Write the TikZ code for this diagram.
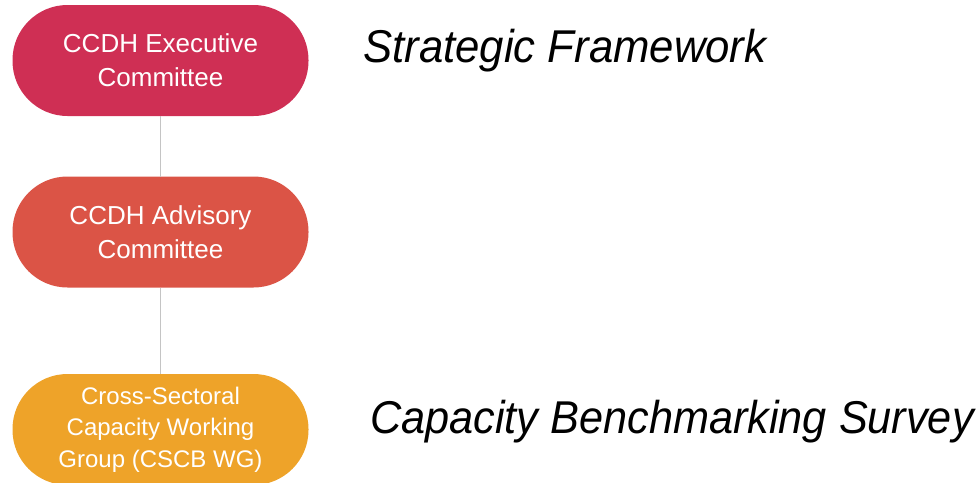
\documentclass[tikz,border=0pt]{standalone}
\usepackage{fontspec}
\setmainfont{Liberation Sans}
\newfontfamily\titlefont[FakeStretch=0.95]{Liberation Sans}
\definecolor{execcol}{HTML}{CF2F54}
\definecolor{advcol}{HTML}{DB5446}
\definecolor{wgcol}{HTML}{EEA329}
\definecolor{linkcol}{HTML}{C4C4C4}
\tikzset{
  pill/.style={rectangle, rounded corners=55pt, minimum width=296pt, minimum height=111pt,
    inner sep=0pt, outer sep=0pt, text=white, align=center},
  bigtxt/.style={font=\fontsize{26pt}{34pt}\selectfont},
  smalltxt/.style={font=\fontsize{24pt}{31.5pt}\selectfont},
  heading/.style={anchor=base west, inner sep=0pt, font=\titlefont\itshape\fontsize{46pt}{50pt}\selectfont},
  link/.style={draw=linkcol, line width=1.8pt}
}
\begin{document}
\begin{tikzpicture}[x=1pt,y=-1pt]
\useasboundingbox (0,0) rectangle (979,482);
\clip (0,0) rectangle (979,482);
\node[pill, bigtxt, fill=execcol] (exec) at (160.5,60.5) {CCDH Executive\\Committee};
\node[pill, bigtxt, fill=advcol] (adv) at (160.5,232) {CCDH Advisory\\Committee};
\node[pill, smalltxt, fill=wgcol] (wg) at (160.5,429.5) {Cross-Sectoral\\Capacity Working\\Group (CSCB WG)};
\draw[link] (exec.south) -- (adv.north);
\draw[link] (adv.south) -- (wg.north);
\node[heading] (sf) at (363,62) {Strategic Framework};
\node[heading, xscale=0.99] (cbs) at (370,433) {Capacity Benchmarking Survey};
\end{tikzpicture}
\end{document}
